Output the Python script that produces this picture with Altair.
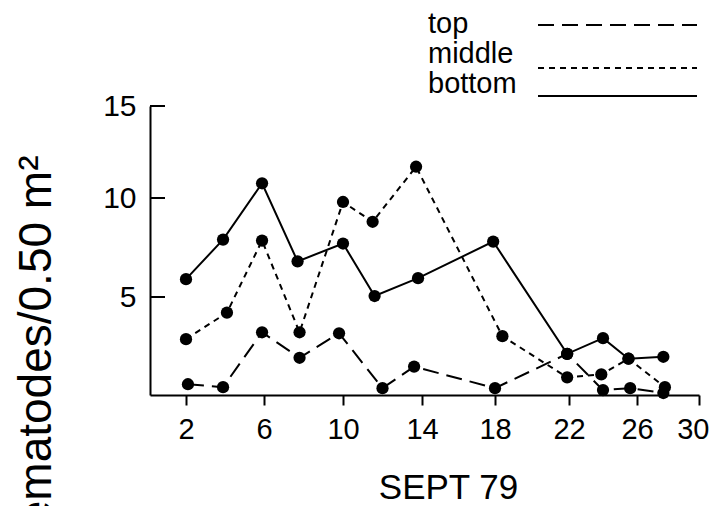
import altair as alt
import pandas as pd

# ---- data ----
series_names = ["top", "middle", "bottom"]

days_top = [2.1, 3.9, 5.9, 7.8, 9.8, 12.0, 13.6, 18.0, 21.9, 24.0, 25.6, 27.7]
count_top = [0.55, 0.4, 3.2, 1.9, 3.15, 0.35, 1.45, 0.35, 2.1, 0.25, 0.35, 0.1]

days_middle = [2.0, 4.1, 5.9, 7.8, 10.0, 11.5, 13.7, 18.4, 21.9, 23.9, 25.5, 27.8]
count_middle = [2.85, 4.2, 7.85, 3.2, 9.8, 8.8, 11.7, 3.0, 0.9, 1.05, 1.85, 0.4]

days_bottom = [2.0, 3.9, 5.9, 7.7, 10.0, 11.6, 13.8, 17.9, 21.9, 24.0, 25.5, 27.7]
count_bottom = [5.9, 7.9, 10.8, 6.8, 7.7, 5.05, 5.95, 7.8, 2.1, 2.9, 1.85, 1.95]

x_ticks = [2, 6, 10, 14, 18, 22, 26, 30]
y_ticks = [5, 10, 15]

FONT = "Liberation Sans"
W, H = 549, 289

# hand-drawn axis: piecewise scales follow the original tick spacing
x_scale = alt.Scale(domain=[0, 2, 6, 10, 14, 18, 22, 26, 30],
                    range=[0, 36, 114, 193, 272, 345, 419, 487, 549],
                    nice=False, zero=False)
y_scale = alt.Scale(domain=[0, 5, 10, 15], range=[289, 191, 92, 0],
                    nice=False, zero=False)

x_axis = alt.Axis(values=x_ticks, title="SEPT 79", grid=False,
                  domainColor="black", domainWidth=2, tickColor="black",
                  tickWidth=2, tickSize=10, labelFontSize=29, labelFont=FONT,
                  labelColor="black", labelPadding=10, labelOverlap=False,
                  labelFlush=True, labelFlushOffset=10,
                  titleFontSize=35, titleFont=FONT,
                  titleFontWeight="normal", titleColor="black",
                  titleX=298, titleY=103, titleAlign="center",
                  titleBaseline="alphabetic")
y_axis = alt.Axis(values=y_ticks, title="Nematodes/0.50 m²", grid=False,
                  domainColor="black", domainWidth=2, tickSize=0,
                  labelFontSize=30, labelFont=FONT, labelColor="black",
                  labelPadding=14, labelOverlap=False, labelFlush=False,
                  titleFontSize=46, titleFont=FONT, titleFontWeight="normal",
                  titleColor="black", titleAngle=270, titleX=-100, titleY=251,
                  titleAlign="center", titleBaseline="alphabetic")

dash_styles = {"top": [16, 8], "middle": [6, 5], "bottom": None}
series_data = {
    "top": (days_top, count_top),
    "middle": (days_middle, count_middle),
    "bottom": (days_bottom, count_bottom),
}

layers = []
for name in series_names:
    d, c = series_data[name]
    df = pd.DataFrame({"day": d, "count": c})
    line_kwargs = dict(color="black", strokeWidth=2)
    if dash_styles[name]:
        line_kwargs["strokeDash"] = dash_styles[name]
    line = alt.Chart(df).mark_line(**line_kwargs).encode(
        x=alt.X("day:Q", scale=x_scale, axis=x_axis),
        y=alt.Y("count:Q", scale=y_scale, axis=y_axis),
    )
    pts = alt.Chart(df).mark_circle(color="black", size=150, opacity=1).encode(
        x=alt.X("day:Q", scale=x_scale, axis=x_axis),
        y=alt.Y("count:Q", scale=y_scale, axis=y_axis),
    )
    layers += [line, pts]

# inward y ticks
tick_df = pd.DataFrame({"count": y_ticks})
yticks = alt.Chart(tick_df).mark_rule(color="black", strokeWidth=2).encode(
    y=alt.Y("count:Q", scale=y_scale, axis=y_axis),
    x=alt.value(0), x2=alt.value(15),
)
layers.append(yticks)

# legend (label then line sample)
legend_text_y = {"top": -73, "middle": -43, "bottom": -13}
legend_line_y = {"top": -81, "middle": -38, "bottom": -10}
for name in series_names:
    t = alt.Chart(pd.DataFrame({"t": [name]})).mark_text(
        align="left", baseline="alphabetic", fontSize=29, font=FONT,
        color="black").encode(text="t:N", x=alt.value(278),
                              y=alt.value(legend_text_y[name]))
    kw = dict(color="black", strokeWidth=2)
    if dash_styles[name]:
        kw["strokeDash"] = dash_styles[name]
    r = alt.Chart(pd.DataFrame({"t": [name]})).mark_rule(**kw).encode(
        x=alt.value(388), x2=alt.value(547), y=alt.value(legend_line_y[name]))
    layers += [t, r]

chart = alt.layer(*layers).properties(
    width=W, height=H,
    autosize=alt.AutoSizeParams(type="none"),
    padding={"left": 142, "top": 98, "right": 11, "bottom": 111},
    background="white",
).configure_view(stroke=None)

chart.save("out.html", embed_options={"renderer": "svg", "actions": False})
